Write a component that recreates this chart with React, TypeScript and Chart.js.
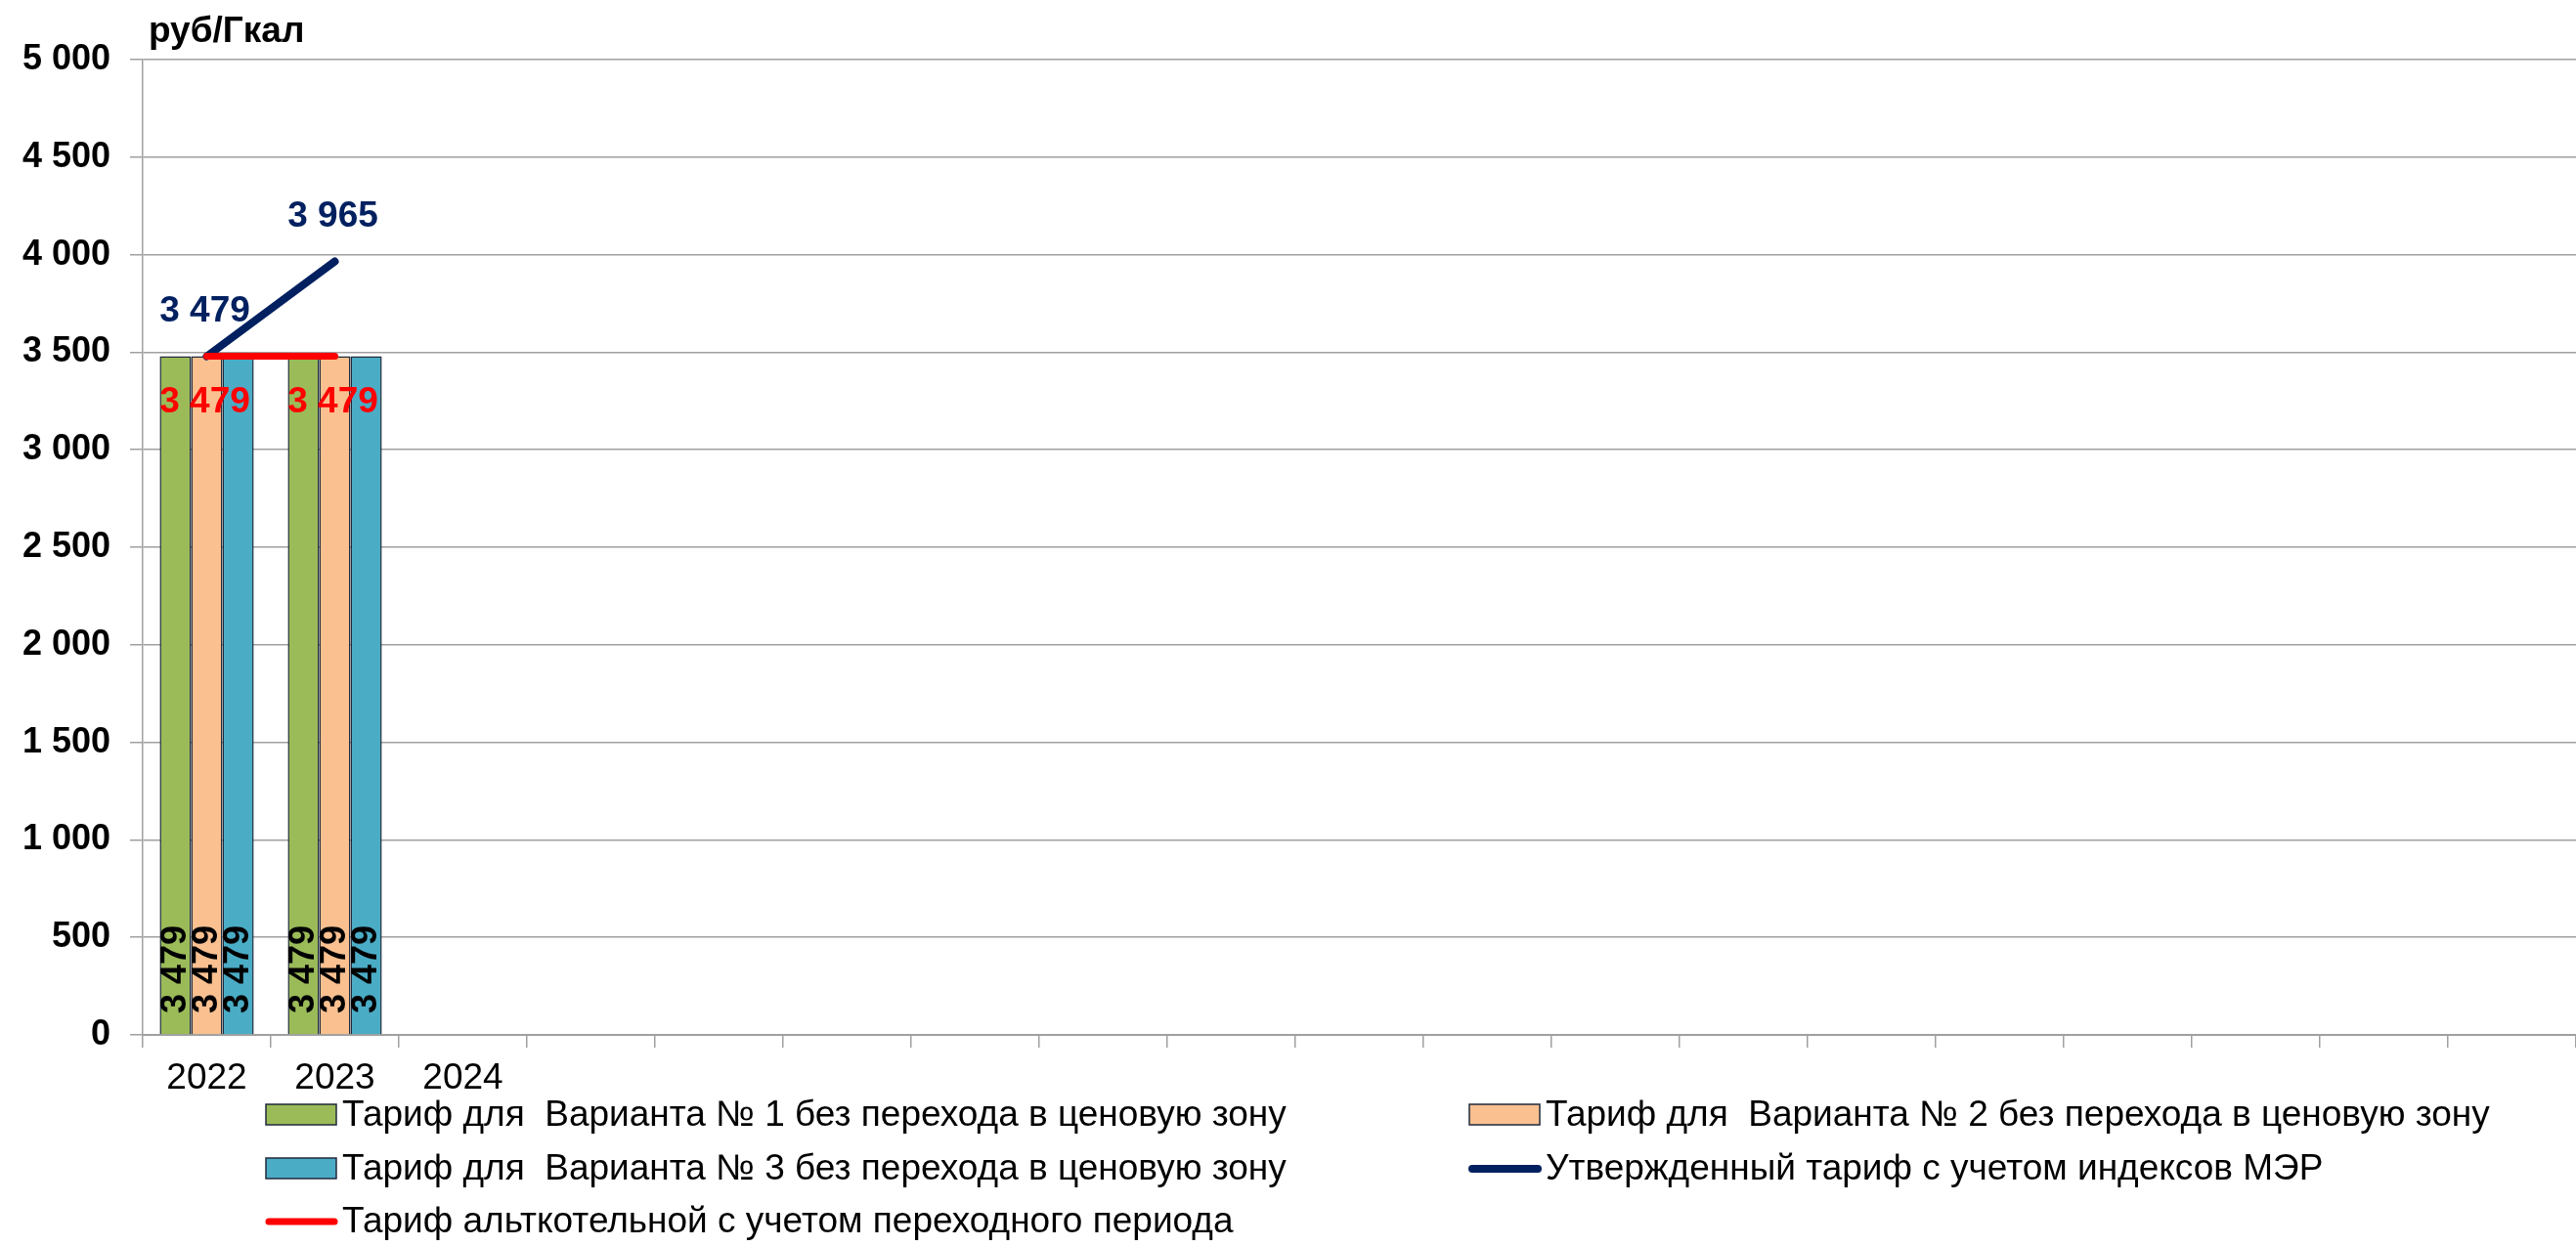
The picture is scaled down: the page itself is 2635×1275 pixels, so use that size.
import React, { useEffect, useRef } from "react";
import { Chart, registerables } from "chart.js";

Chart.register(...registerables);

const categories = ["2022", "2023", "2024", "", "", "", "", "", "", "", "", "", "", "", "", "", "", "", ""];
const variant1 = [3479, 3479];
const variant2 = [3479, 3479];
const variant3 = [3479, 3479];
const approvedMer = [3479, 3965];
const altBoiler = [3479, 3479];
const yTicks = [0, 500, 1000, 1500, 2000, 2500, 3000, 3500, 4000, 4500, 5000];

const seriesNames = [
  "Тариф для  Варианта № 1 без перехода в ценовую зону",
  "Тариф для  Варианта № 2 без перехода в ценовую зону",
  "Тариф для  Варианта № 3 без перехода в ценовую зону",
  "Утвержденный тариф с учетом индексов МЭР",
  "Тариф альткотельной с учетом переходного периода",
];
const unitLabel = "руб/Гкал";

const GREEN = "#9BBB59";
const ORANGE = "#FAC090";
const BLUE = "#4BACC6";
const NAVY = "#002060";
const RED = "#FF0000";
const FONT = '"Liberation Sans", Arial, sans-serif';

const fmt = (v: number) => String(Math.round(v)).replace(/\B(?=(\d{3})+(?!\d))/g, " ");

const pad = (arr: number[]) => categories.map((_, i) => (i < arr.length ? arr[i] : null));

const labelsPlugin = {
  id: "customLabels",
  afterDatasetsDraw(chart: any) {
    const ctx = chart.ctx;
    const base = chart.scales.y.getPixelForValue(0);
    chart.data.datasets.forEach((ds: any, di: number) => {
      const meta = chart.getDatasetMeta(di);
      meta.data.forEach((el: any, i: number) => {
        const v = ds.data[i];
        if (v == null) return;
        ctx.save();
        if (ds.type === "bar") {
          ctx.translate(el.x, base - 22);
          ctx.rotate(-Math.PI / 2);
          ctx.font = `bold 36px ${FONT}`;
          ctx.fillStyle = "#000";
          ctx.textAlign = "left";
          ctx.textBaseline = "middle";
          ctx.fillText(fmt(v), 0, 1);
        } else {
          ctx.font = `bold 37px ${FONT}`;
          ctx.fillStyle = ds.borderColor;
          ctx.textAlign = "center";
          ctx.textBaseline = "middle";
          const dy = ds.labelPos === "below" ? 47 : -46;
          ctx.fillText(fmt(v), el.x - 2, el.y + dy);
        }
        ctx.restore();
      });
    });
  },
  afterDraw(chart: any) {
    const ctx = chart.ctx;
    ctx.save();
    // unit title
    ctx.font = `bold 37px ${FONT}`;
    ctx.fillStyle = "#000";
    ctx.textAlign = "left";
    ctx.textBaseline = "alphabetic";
    ctx.fillText(unitLabel, 152, 43);

    // legend
    const items = [
      { kind: "box", color: GREEN, x: 272, y: 1141, text: seriesNames[0] },
      { kind: "box", color: ORANGE, x: 1503, y: 1141, text: seriesNames[1] },
      { kind: "box", color: BLUE, x: 272, y: 1196, text: seriesNames[2] },
      { kind: "line", color: NAVY, x: 1503, y: 1196, text: seriesNames[3], w: 8 },
      { kind: "line", color: RED, x: 272, y: 1250, text: seriesNames[4], w: 7 },
    ];
    items.forEach((it: any) => {
      if (it.kind === "box") {
        ctx.fillStyle = it.color;
        ctx.fillRect(it.x, it.y - 11, 72, 21);
        ctx.strokeStyle = "#1F2A3A";
        ctx.lineWidth = 1.5;
        ctx.strokeRect(it.x, it.y - 11, 72, 21);
      } else {
        ctx.strokeStyle = it.color;
        ctx.lineWidth = it.w;
        ctx.lineCap = "round";
        ctx.beginPath();
        ctx.moveTo(it.x + 3, it.y);
        ctx.lineTo(it.x + 70, it.y);
        ctx.stroke();
      }
      ctx.font = `37px ${FONT}`;
      ctx.fillStyle = "#000";
      ctx.textAlign = "left";
      ctx.textBaseline = "middle";
      ctx.fillText(it.text, it.x + 78, it.y + 1);
    });
    ctx.restore();
  },
};

export default function App() {
  const ref = useRef<HTMLCanvasElement | null>(null);
  useEffect(() => {
    document.body.style.margin = "0";
    document.body.style.overflow = "hidden";
    const canvas = ref.current!;
    const chart = new Chart(canvas, {
      type: "bar",
      data: {
        labels: categories,
        datasets: [
          { type: "bar", label: seriesNames[0], data: pad(variant1), backgroundColor: GREEN, borderColor: "#1F2A3A", borderWidth: 1.5, order: 3 },
          { type: "bar", label: seriesNames[1], data: pad(variant2), backgroundColor: ORANGE, borderColor: "#1F2A3A", borderWidth: 1.5, order: 3 },
          { type: "bar", label: seriesNames[2], data: pad(variant3), backgroundColor: BLUE, borderColor: "#1F2A3A", borderWidth: 1.5, order: 3 },
          { type: "line", label: seriesNames[3], data: pad(approvedMer), borderColor: NAVY, borderWidth: 8, borderCapStyle: "round", pointRadius: 0, tension: 0, order: 2, labelPos: "above" } as any,
          { type: "line", label: seriesNames[4], data: pad(altBoiler), borderColor: RED, borderWidth: 7, borderCapStyle: "round", pointRadius: 0, tension: 0, order: 1, labelPos: "below" } as any,
        ],
      },
      options: {
        responsive: false,
        animation: false,
        layout: { padding: { left: 0, right: 0, top: 61, bottom: 0 } },
        datasets: { bar: { categoryPercentage: 0.734, barPercentage: 1 } },
        plugins: { legend: { display: false }, tooltip: { enabled: false }, title: { display: false } },
        scales: {
          x: {
            offset: true,
            grid: { offset: true, drawOnChartArea: false, drawTicks: true, tickLength: 13, color: "#A0A0A0", lineWidth: 1.5 },
            border: { color: "#A0A0A0", width: 2 },
            ticks: { color: "#000", font: { family: FONT, size: 37 }, padding: 10, maxRotation: 0, autoSkip: false },
            afterFit: (s: any) => { s.height = 1275 - 1059; },
          },
          y: {
            min: 0,
            max: 5000,
            afterBuildTicks: (s: any) => { s.ticks = yTicks.map((v) => ({ value: v })); },
            grid: { color: "#A0A0A0", lineWidth: 1.5, tickLength: 13 },
            border: { color: "#A0A0A0", width: 1.5 },
            ticks: { color: "#000", font: { family: FONT, size: 36, weight: "bold" }, padding: 20, callback: (v: any) => fmt(Number(v)) },
            afterFit: (s: any) => { s.width = 146; },
          },
        },
      },
      plugins: [labelsPlugin],
    });
    return () => chart.destroy();
  }, []);
  return (
    <div style={{ width: 2635, height: 1275, background: "#fff" }}>
      <canvas ref={ref} width={2635} height={1275} style={{ display: "block" }} />
    </div>
  );
}
